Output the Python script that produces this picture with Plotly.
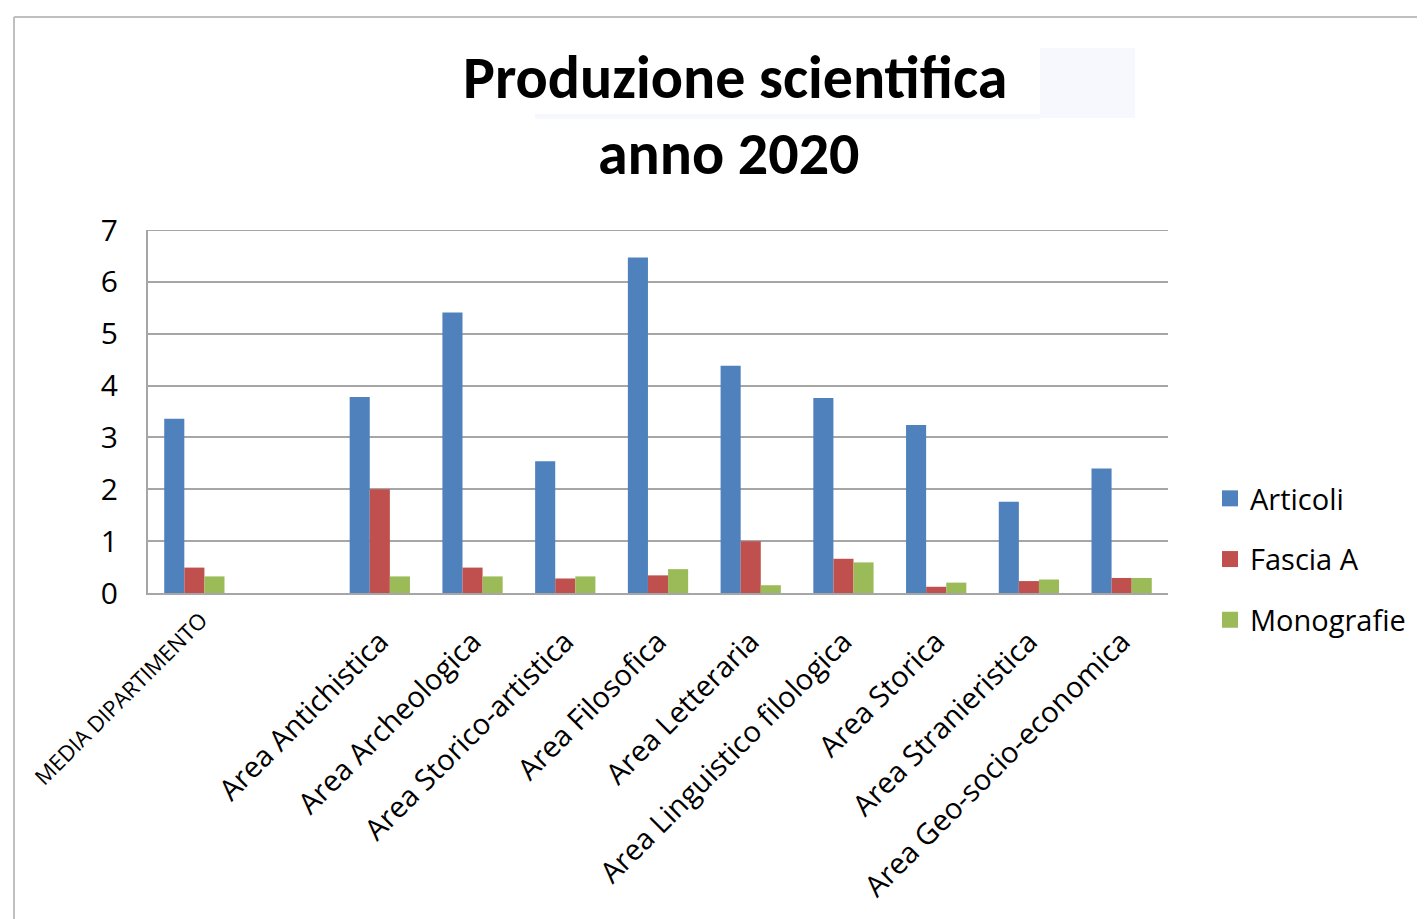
import plotly.graph_objects as go

categories = ["MEDIA DIPARTIMENTO", " ", "Area Antichistica", "Area Archeologica",
              "Area Storico-artistica", "Area Filosofica", "Area Letteraria",
              "Area Linguistico filologica", "Area Storica", "Area Stranieristica",
              "Area Geo-socio-economica"]
tick_labels = ["", "",
               "Area Antichistica", "Area Archeologica", "Area Storico-artistica",
               "Area Filosofica", "Area Letteraria", "Area Linguistico filologica",
               "Area Storica", "Area Stranieristica", "Area Geo-socio-economica"]
first_label = "MEDIA DIPARTIMENTO"
articoli = [3.36, None, 3.78, 5.41, 2.54, 6.47, 4.38, 3.76, 3.24, 1.76, 2.40]
fascia_a = [0.49, None, 2.0, 0.49, 0.28, 0.34, 1.0, 0.66, 0.12, 0.23, 0.29]
monografie = [0.32, None, 0.32, 0.32, 0.32, 0.46, 0.15, 0.59, 0.20, 0.26, 0.29]
series_names = ["Articoli", "Fascia A", "Monografie"]
colors = ["#4F81BD", "#C0504D", "#9BBB59"]

O = 8  # page body margin offset
W, H = 1425 - O, 919 - O
L, R, T, B = 148, 1168, 230, 593  # plot area in screenshot coordinates

def px(x):
    return (x - L) / (R - L)

def py(y):
    return (B - y) / (B - T)

fig = go.Figure()
for i, (name, vals) in enumerate(zip(series_names, [articoli, fascia_a, monografie])):
    fig.add_trace(go.Bar(x=categories, y=vals, name=name, marker_color=colors[i],
                         marker_line_width=0, showlegend=False))
# legend entries with larger square swatches
for i, name in enumerate(series_names):
    fig.add_trace(go.Scatter(x=[None], y=[None], mode="markers", name=name,
                             marker=dict(symbol="square", size=16, color=colors[i]),
                             legendgroup=name))

fig.update_layout(
    width=W, height=H,
    margin=dict(l=L - O, r=W - (R - O), t=T - O, b=H - (B - O), autoexpand=False),
    paper_bgcolor="white", plot_bgcolor="white",
    barmode="group", bargap=0.35, bargroupgap=0,
    font=dict(family="Open Sans, sans-serif", color="black"),
    showlegend=True,
    legend=dict(x=px(1210), y=py(473), xanchor="left", yanchor="top",
                font=dict(size=29, family="Open Sans, sans-serif", color="black"),
                traceorder="grouped", tracegroupgap=20, itemwidth=30,
                bgcolor="rgba(0,0,0,0)"),
)
fig.update_xaxes(type="category", categoryorder="array", categoryarray=categories,
                 tickmode="array", tickvals=categories, ticktext=tick_labels,
                 tickangle=-45, tickfont=dict(size=29, color="black"), showgrid=False,
                 showline=True, linecolor="#A6A6A6", linewidth=2, ticks="",
                 ticklabelstandoff=18)
fig.update_yaxes(range=[0, 7], dtick=1, tickfont=dict(size=30, color="black"),
                 showgrid=True, gridcolor="#A6A6A6", gridwidth=2, showline=True,
                 linecolor="#A6A6A6", linewidth=2, zeroline=False,
                 ticklabelstandoff=22)

# first category label (smaller, set closer to axis as in the original)
fig.add_annotation(text=first_label, x=px(120), y=py(698), xref="paper", yref="paper",
                   showarrow=False, textangle=-45, xanchor="center", yanchor="middle",
                   font=dict(size=22, family="Open Sans, sans-serif", color="black"))

# top gridline at 7 (plotly skips gridline at the plot edge)
fig.add_shape(type="line", xref="paper", yref="y", x0=0, x1=1, y0=7, y1=7,
              line=dict(color="#A6A6A6", width=2))

# title
fig.add_annotation(text="<b>Produzione scientifica</b>", x=px(735), y=py(77),
                   xref="paper", yref="paper", showarrow=False,
                   xanchor="center", yanchor="middle",
                   font=dict(size=60, family="Carlito, Lato, sans-serif", color="black"))
fig.add_annotation(text="<b>anno 2020</b>", x=px(728), y=py(153),
                   xref="paper", yref="paper", showarrow=False,
                   xanchor="center", yanchor="middle",
                   font=dict(size=60, family="Carlito, Lato, sans-serif", color="black"))

# faint artifacts near the title
fig.add_shape(type="rect", xref="paper", yref="paper", x0=px(1040), x1=px(1135),
              y0=py(118), y1=py(48), fillcolor="#F7F8FD", line_width=0, layer="below")
fig.add_shape(type="rect", xref="paper", yref="paper", x0=px(535), x1=px(1040),
              y0=py(119), y1=py(114), fillcolor="#F7F8FD", line_width=0, layer="below")

# outer chart border (cropped)
fig.add_shape(type="line", xref="paper", yref="paper", x0=px(14), x1=px(1440),
              y0=py(17), y1=py(17), line=dict(color="#BFBFBF", width=2))
fig.add_shape(type="line", xref="paper", yref="paper", x0=px(14), x1=px(14),
              y0=py(17), y1=py(940), line=dict(color="#BFBFBF", width=2))

fig.write_html("out.html")
